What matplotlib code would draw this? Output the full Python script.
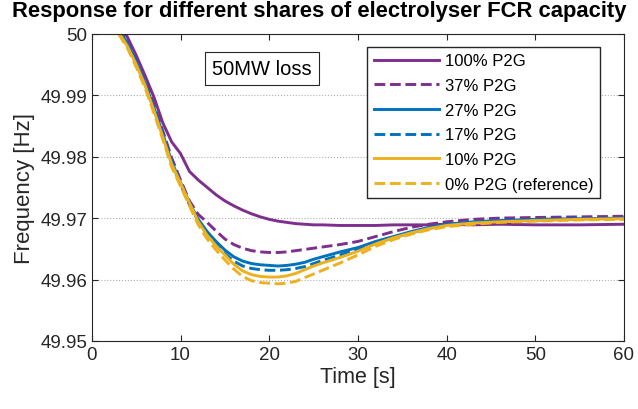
import matplotlib.pyplot as plt

plt.rcParams['font.family'] = ['Liberation Sans', 'DejaVu Sans']

# time axis [s]
t = [3, 4, 5, 6, 7, 8, 9, 10, 11, 12, 13, 14, 15, 16, 17, 18, 19, 20, 21, 22,
     23, 24, 25, 26, 28, 30, 32, 34, 36, 38, 40, 43, 46, 50, 55, 60]

# frequency [Hz] for each share of electrolyser FCR
f_100 = [50.0015, 49.9995, 49.9965, 49.9932, 49.9897, 49.9855, 49.9824, 49.9805, 49.9776, 49.9762,
         49.975, 49.9738, 49.9728, 49.972, 49.9713, 49.9707, 49.9702, 49.9698, 49.9695, 49.9693,
         49.9691, 49.969, 49.9689, 49.9689, 49.9688, 49.9688, 49.9688, 49.9689, 49.9689, 49.9689,
         49.969, 49.9689, 49.969, 49.9689, 49.9689, 49.969]
f_37 = [50.001, 49.999, 49.996, 49.9925, 49.9885, 49.9842, 49.9798, 49.9762, 49.9728, 49.9706,
        49.9693, 49.9679, 49.9666, 49.9657, 49.9651, 49.9647, 49.9645, 49.9644, 49.9644, 49.9645,
        49.9647, 49.9649, 49.9651, 49.9653, 49.9657, 49.9662, 49.967, 49.9678, 49.9685, 49.969,
        49.9694, 49.9698, 49.97, 49.9701, 49.9702, 49.9703]
f_27 = [50.0008, 49.9985, 49.9955, 49.992, 49.988, 49.9837, 49.9792, 49.9758, 49.9725, 49.9698,
        49.9678, 49.9662, 49.9648, 49.9637, 49.963, 49.9626, 49.9624, 49.9623, 49.9622, 49.9623,
        49.9625, 49.9628, 49.9633, 49.9637, 49.9645, 49.9652, 49.9662, 49.967, 49.9678, 49.9685,
        49.969, 49.9694, 49.9696, 49.9698, 49.9699, 49.97]
f_17 = [50.0006, 49.9983, 49.9952, 49.9918, 49.9878, 49.9834, 49.9789, 49.9755, 49.9722, 49.9695,
        49.9674, 49.9657, 49.9642, 49.963, 49.9622, 49.9618, 49.9616, 49.9615, 49.9615, 49.9616,
        49.9618, 49.9621, 49.9626, 49.9631, 49.964, 49.9649, 49.9659, 49.9668, 49.9676, 49.9683,
        49.9689, 49.9693, 49.9695, 49.9697, 49.9699, 49.97]
f_10 = [50.0003, 49.998, 49.995, 49.9916, 49.9875, 49.9832, 49.9788, 49.9757, 49.9725, 49.9694,
        49.9672, 49.9655, 49.964, 49.9625, 49.9614, 49.9608, 49.9605, 49.9604, 49.9604, 49.9606,
        49.961, 49.9616, 49.9622, 49.9627, 49.9636, 49.9646, 49.9658, 49.9668, 49.9676, 49.9683,
        49.9688, 49.9692, 49.9694, 49.9696, 49.9698, 49.9699]
f_0 = [50.0, 49.9977, 49.9946, 49.9912, 49.9871, 49.9828, 49.9783, 49.9752, 49.972, 49.9689,
       49.9666, 49.9648, 49.9632, 49.9617, 49.9605, 49.9598, 49.9595, 49.9594, 49.9593, 49.9594,
       49.9597, 49.9603, 49.9609, 49.9615, 49.9627, 49.964, 49.9654, 49.9665, 49.9674, 49.9681,
       49.9686, 49.969, 49.9693, 49.9695, 49.9697, 49.9698]

purple = '#7E2F8E'
blue = '#0072BD'
yellow = '#EDB120'

fig = plt.figure(figsize=(6.38, 4.10), dpi=100)
ax = fig.add_axes([0.144, 0.166, 0.834, 0.749])

ax.plot(t, f_100, color=purple, lw=2.1, label='100% P2G')
ax.plot(t, f_37, color=purple, lw=2.1, ls='--', label='37% P2G')
ax.plot(t, f_27, color=blue, lw=2.1, label='27% P2G')
ax.plot(t, f_17, color=blue, lw=2.1, ls='--', label='17% P2G')
ax.plot(t, f_10, color=yellow, lw=2.1, label='10% P2G')
ax.plot(t, f_0, color=yellow, lw=2.1, ls='--', label='0% P2G (reference)')

ax.set_xlim(0, 60)
ax.set_ylim(49.95, 50)
ax.set_xticks([0, 10, 20, 30, 40, 50, 60])
ax.set_yticks([49.95, 49.96, 49.97, 49.98, 49.99, 50])
ax.set_yticklabels(['49.95', '49.96', '49.97', '49.98', '49.99', '50'])
ax.tick_params(direction='in', top=True, right=True, labelsize=13.5, colors='#262626', length=4)
ax.yaxis.grid(True, ls=':', color='#b0b0b0', lw=0.8)
for s in ax.spines.values():
    s.set_color('#262626')

ax.set_xlabel('Time [s]', fontsize=15.5, color='#262626', labelpad=2)
ax.set_ylabel('Frequency [Hz]', fontsize=16, color='#262626', labelpad=4)
fig.text(0.5, 0.998, 'Response for different shares of electrolyser FCR capacity',
         fontsize=15.8, fontweight='bold', ha='center', va='top')

ax.text(19.2, 49.9944, '50MW loss', fontsize=14.5, ha='center', va='center',
        bbox=dict(boxstyle='square,pad=0.35', fc='white', ec='#262626', lw=0.8))

ax.legend(loc='upper right', bbox_to_anchor=(0.955, 0.958), borderaxespad=0, fontsize=12,
          handlelength=3.9, fancybox=False, edgecolor='#262626', framealpha=1,
          labelspacing=0.58, handletextpad=0.35, borderpad=0.4)

fig.savefig('out.png', dpi=100)
